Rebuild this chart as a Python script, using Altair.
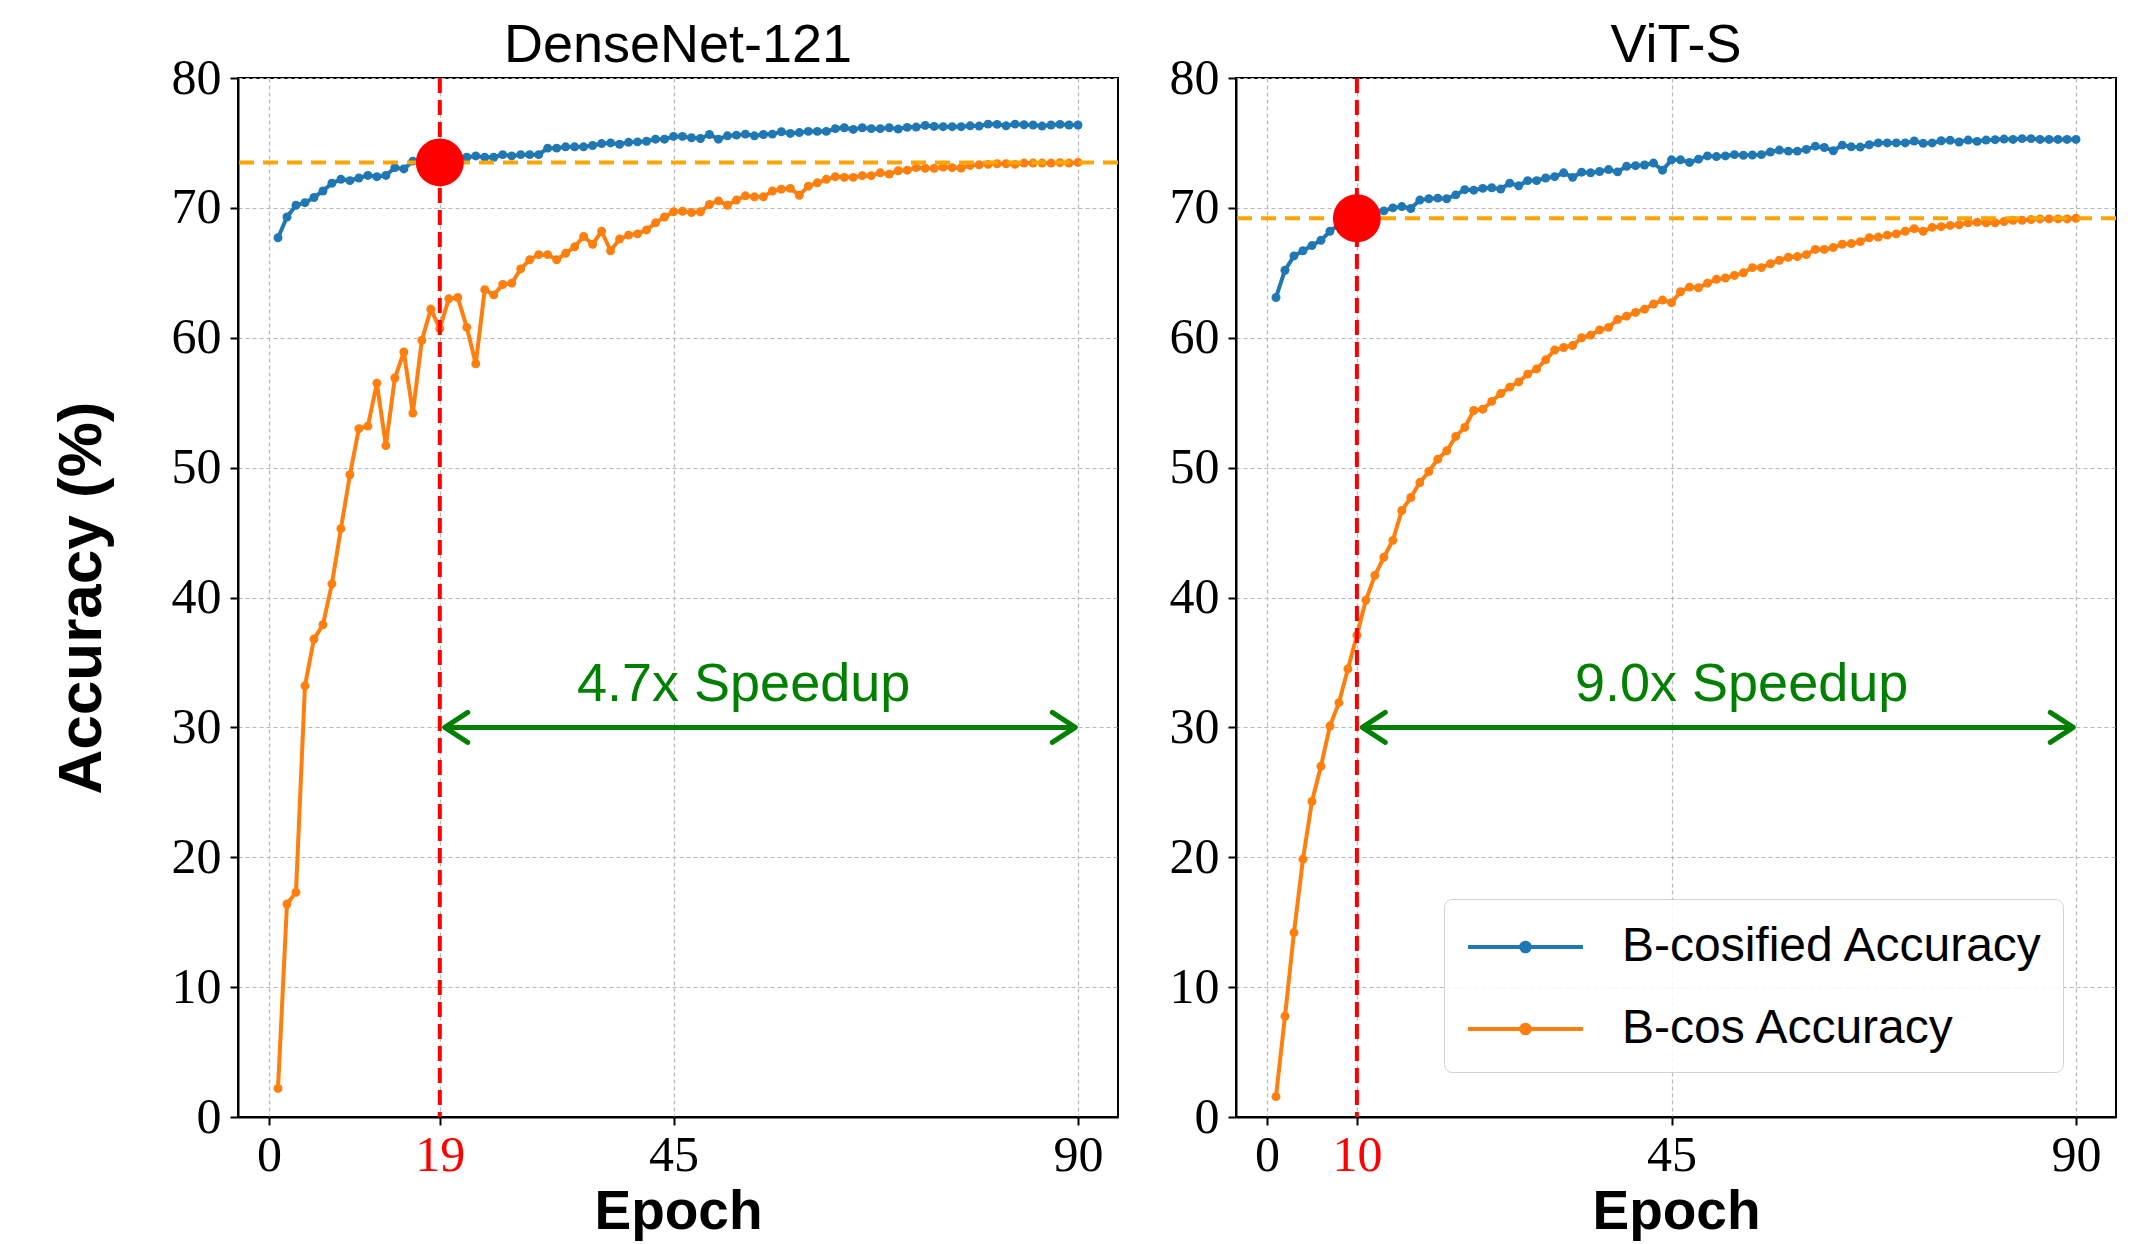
import altair as alt
import pandas as pd

# ---------------- data ----------------
epochs = list(range(1, 91))

densenet_bcosified = [
    67.7, 69.3, 70.2, 70.4, 70.8, 71.3, 71.9, 72.2, 72.1, 72.3,
    72.5, 72.4, 72.5, 73.1, 73.0, 73.6, 73.7, 73.8, 73.9, 74.0,
    74.0, 73.9, 74.0, 73.9, 73.9, 74.1, 74.0, 74.1, 74.1, 74.1,
    74.6, 74.6, 74.7, 74.7, 74.7, 74.8, 74.95, 75.0, 74.9, 75.05,
    75.08, 75.13, 75.29, 75.29, 75.5, 75.5, 75.4, 75.34, 75.65, 75.29,
    75.55, 75.6, 75.68, 75.55, 75.65, 75.68, 75.86, 75.73, 75.8, 75.89,
    75.89, 75.89, 76.1, 76.17, 76.04, 76.17, 76.1, 76.1, 76.17, 76.07,
    76.2, 76.22, 76.35, 76.27, 76.25, 76.25, 76.25, 76.32, 76.3, 76.45,
    76.43, 76.32, 76.45, 76.4, 76.38, 76.3, 76.38, 76.43, 76.38, 76.38,
]
densenet_bcos = [
    2.2, 16.4, 17.3, 33.2, 36.8, 37.9, 41.05, 45.3, 49.45, 53.0,
    53.2, 56.5, 51.7, 56.9, 58.9, 54.2, 59.8, 62.2, 60.7, 63.0,
    63.1, 60.8, 58.0, 63.7, 63.3, 64.1, 64.2, 65.3, 66.0, 66.4,
    66.4, 66.0, 66.5, 67.0, 67.8, 67.2, 68.2, 66.7, 67.6, 67.9,
    68.0, 68.3, 68.85, 69.3, 69.7, 69.74, 69.64, 69.7, 70.26, 70.54,
    70.2, 70.6, 70.93, 70.85, 70.85, 71.3, 71.44, 71.5, 70.97, 71.67,
    71.93, 72.2, 72.4, 72.35, 72.35, 72.48, 72.48, 72.7, 72.6, 72.86,
    72.9, 73.1, 73.05, 73.05, 73.14, 73.1, 73.07, 73.27, 73.32, 73.35,
    73.4, 73.4, 73.35, 73.45, 73.45, 73.45, 73.45, 73.48, 73.45, 73.5,
]
vit_bcosified = [
    63.1, 65.2, 66.3, 66.7, 67.1, 67.5, 68.2, 68.7, 69.0, 69.2,
    69.5, 69.7, 69.77, 70.0, 70.1, 69.95, 70.6, 70.7, 70.75, 70.7,
    71.0, 71.4, 71.36, 71.5, 71.55, 71.45, 71.9, 71.7, 72.1, 72.1,
    72.3, 72.4, 72.7, 72.35, 72.75, 72.7, 72.8, 72.95, 72.77, 73.2,
    73.25, 73.3, 73.45, 72.9, 73.7, 73.7, 73.5, 73.75, 74.0, 73.95,
    74.0, 74.1, 74.05, 74.07, 74.1, 74.3, 74.45, 74.37, 74.37, 74.5,
    74.75, 74.65, 74.4, 74.83, 74.7, 74.68, 74.86, 75.0, 75.0, 75.0,
    75.0, 75.15, 74.97, 75.0, 75.17, 75.2, 75.07, 75.22, 75.12, 75.22,
    75.25, 75.3, 75.27, 75.33, 75.33, 75.27, 75.27, 75.27, 75.27, 75.27,
]
vit_bcos = [
    1.57, 7.76, 14.2, 19.85, 24.3, 27.0, 30.1, 31.9, 34.5, 37.1,
    39.8, 41.7, 43.1, 44.4, 46.7, 47.7, 48.85, 49.7, 50.65, 51.3,
    52.4, 53.1, 54.4, 54.5, 55.1, 55.7, 56.2, 56.6, 57.2, 57.6,
    58.3, 59.05, 59.25, 59.4, 60.0, 60.2, 60.6, 60.8, 61.4, 61.66,
    61.95, 62.2, 62.6, 62.9, 62.7, 63.54, 63.9, 63.85, 64.2, 64.5,
    64.6, 64.8, 65.0, 65.4, 65.4, 65.7, 65.97, 66.2, 66.25, 66.4,
    66.8, 66.8, 66.95, 67.2, 67.25, 67.4, 67.7, 67.75, 67.9, 68.0,
    68.2, 68.4, 68.2, 68.5, 68.55, 68.65, 68.7, 68.85, 68.9, 68.85,
    68.85, 68.95, 69.05, 69.05, 69.1, 69.15, 69.15, 69.15, 69.15, 69.2,
]

panel_titles = ["DenseNet-121", "ViT-S"]
speedup_epoch = [19, 10]
target_acc = [73.5, 69.2]
speedup_text = ["4.7x Speedup", "9.0x Speedup"]
text_epoch = [52.8, 52.8]
text_acc = [32.0, 32.0]
arrow_acc = [30, 30]
arrow_start = [19.55, 10.6]
arrow_end = [89.7, 89.7]
x_ticks = [[0, 19, 45, 90], [0, 10, 45, 90]]
y_ticks = [0, 10, 20, 30, 40, 50, 60, 70, 80]
series_names = ["B-cosified Accuracy", "B-cos Accuracy"]
series_colors = ["#1f77b4", "#ff7f0e"]

SANS = "Liberation Sans"
SERIF = "Liberation Serif"
GREEN = "#008000"

x_scale = alt.Scale(domain=[-3.45, 94.45], nice=False, zero=False)
y_scale = alt.Scale(domain=[0, 80], nice=False, zero=False)

legend_path = ("M-0.89,0L3.37,0"
               "M1.40,0A0.16,0.16,0,1,1,1.08,0A0.16,0.16,0,1,1,1.40,0")


def panel(i, blue, orange, show_ytitle):
    df = pd.DataFrame({
        "epoch": epochs + epochs,
        "acc": blue + orange,
        "series": [series_names[0]] * len(blue) + [series_names[1]] * len(orange),
    })
    se = speedup_epoch[i]
    xaxis = alt.Axis(
        values=x_ticks[i], title="Epoch", grid=True,
        labelColor={"expr": f"datum.value == {se} ? '#ff0000' : '#000000'"},
    )
    if show_ytitle:
        yaxis = alt.Axis(values=y_ticks, title="Accuracy (%)", grid=True)
    else:
        yaxis = alt.Axis(values=y_ticks, title=None, grid=True)

    color = alt.Color(
        "series:N",
        scale=alt.Scale(domain=series_names, range=series_colors),
        sort=series_names,
        legend=alt.Legend(
            title=None, orient="none", legendX=1206, legendY=821,
            symbolType=legend_path, symbolSize=2916, symbolStrokeWidth=4,
            labelFont=SANS, labelFontSize=48, labelColor="black", labelLimit=800,
            labelOffset=101, rowPadding=29, padding=19,
            fillColor="rgba(255,255,255,0.85)", strokeColor="#d3d3d3",
            cornerRadius=8,
        ),
    )
    base = alt.Chart(df).encode(
        x=alt.X("epoch:Q", scale=x_scale, axis=xaxis),
        y=alt.Y("acc:Q", scale=y_scale, axis=yaxis),
        color=color,
    )
    lines = base.mark_line(strokeWidth=4)
    pts = base.mark_point(filled=True, size=80, opacity=1)

    ann = pd.DataFrame({
        "se": [se], "ta": [target_acc[i]], "txt": [speedup_text[i]],
        "tx": [text_epoch[i]], "ty": [text_acc[i]],
        "ay": [arrow_acc[i]], "a0": [arrow_start[i]], "a1": [arrow_end[i]],
    })
    a = alt.Chart(ann)
    hline = a.mark_rule(color="#ffa500", strokeWidth=4, strokeDash=[15, 9]).encode(
        y=alt.Y("ta:Q", scale=y_scale))
    vline = a.mark_rule(color="#ff0000", strokeWidth=4, strokeDash=[15, 7]).encode(
        x=alt.X("se:Q", scale=x_scale))
    arrow = a.mark_rule(color=GREEN, strokeWidth=5).encode(
        x=alt.X("a0:Q", scale=x_scale), x2="a1:Q", y=alt.Y("ay:Q", scale=y_scale))
    head_r = a.mark_point(shape="M-1,-0.65L0,0L-1,0.65", size=2116, filled=False,
                          strokeWidth=5, color=GREEN, opacity=1,
                          strokeCap="round", strokeJoin="round").encode(
        x=alt.X("a1:Q", scale=x_scale), y=alt.Y("ay:Q", scale=y_scale))
    head_l = a.mark_point(shape="M1,-0.65L0,0L1,0.65", size=2116, filled=False,
                          strokeWidth=5, color=GREEN, opacity=1,
                          strokeCap="round", strokeJoin="round").encode(
        x=alt.X("a0:Q", scale=x_scale), y=alt.Y("ay:Q", scale=y_scale))
    txt = a.mark_text(font=SANS, fontSize=54, color=GREEN, align="center",
                      baseline="alphabetic").encode(
        x=alt.X("tx:Q", scale=x_scale), y=alt.Y("ty:Q", scale=y_scale), text="txt:N")
    dot = a.mark_circle(size=2300, color="#ff0000", opacity=1).encode(
        x=alt.X("se:Q", scale=x_scale), y=alt.Y("ta:Q", scale=y_scale))

    return alt.layer(lines, pts, hline, vline, arrow, head_r, head_l, txt, dot).properties(
        width=880, height=1039,
        title=alt.TitleParams(panel_titles[i], font=SANS, fontSize=54, fontWeight="normal",
                              color="black", frame="group", anchor="middle",
                              baseline="alphabetic", offset=-63),
    )


left = panel(0, densenet_bcosified, densenet_bcos, True)
right = panel(1, vit_bcosified, vit_bcos, False)

chart = alt.HConcatChart(hconcat=[left, right], spacing=118, bounds="flush").properties(
    padding={"left": 41, "top": 10, "right": 5, "bottom": 2},
).configure_view(
    stroke="black", strokeWidth=2
).configure_axis(
    domainColor="black", domainWidth=2, tickColor="black", tickWidth=2, tickSize=8,
    labelFont=SERIF, labelFontSize=50, labelColor="black",
    gridColor="#b8b8b8", gridDash=[4, 3], gridWidth=1.2,
    titleFont=SANS, titleFontWeight="bold", titleColor="black",
).configure_axisX(
    labelPadding=5, titleFontSize=55, titlePadding=5,
).configure_axisY(
    labelPadding=9, titleFontSize=62, titlePadding=58,
)

chart.save("out.html", embed_options={"renderer": "svg", "actions": False})
